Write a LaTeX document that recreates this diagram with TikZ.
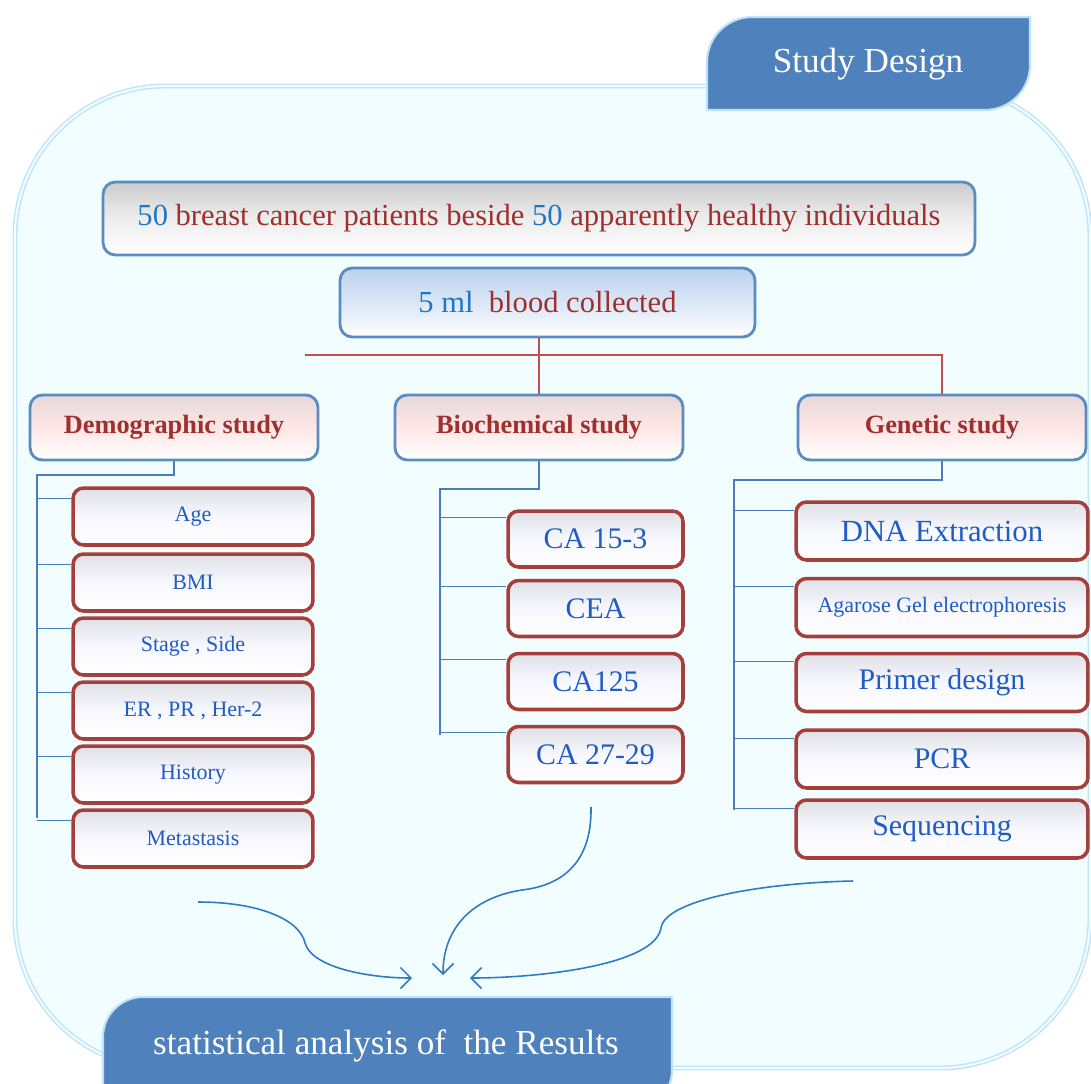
\documentclass[tikz,border=0pt]{standalone}
\usepackage{fontspec}
\setmainfont{Liberation Serif}
\usepackage{tikz}
\usetikzlibrary{arrows.meta,calc}

\definecolor{tabblue}{HTML}{4F81BD}
\definecolor{paneline}{HTML}{BDE3F9}
\definecolor{panefill}{HTML}{F2FDFF}
\definecolor{numblue}{HTML}{1F77C4}
\definecolor{txtred}{HTML}{9E302D}
\definecolor{itemblue}{HTML}{1F5CC4}
\definecolor{boxred}{HTML}{A43F3C}
\definecolor{edgeblue}{HTML}{5A8CC0}
\definecolor{linered}{HTML}{C0504D}
\definecolor{linkblue}{HTML}{4A7EBB}
\definecolor{arrowblue}{HTML}{2E7BC4}
\definecolor{bloodfill}{HTML}{BCD2EE}

\begin{document}
\begin{tikzpicture}[
  x=0.02cm, y=-0.02cm,
  pane/.style={draw=paneline,double=panefill,double distance=1.2pt,line width=0.8pt,fill=panefill,rounded corners=3cm},
  tab/.style={draw=paneline,line width=1.2pt,fill=tabblue},
  tabtext/.style={text=white,font=\fontsize{20}{24}\selectfont},
  topbox/.style={rectangle,draw=edgeblue,line width=1.6pt,rounded corners=7pt,top color=gray!40,bottom color=white,middle color=gray!14,minimum height=1.46cm,minimum width=#1,font=\fontsize{17.4}{20}\selectfont,text=txtred},
  headbox/.style={rectangle,draw=edgeblue,line width=1.6pt,rounded corners=7pt,top color=red!20!gray!25,bottom color=white,middle color=red!10,minimum width=5.76cm,minimum height=1.3cm,font=\fontsize{15}{18}\selectfont\bfseries,text=txtred},
  item/.style={rectangle,draw=boxred,line width=2pt,rounded corners=6pt,top color=blue!12!gray!22,bottom color=white,middle color=blue!3,text=itemblue,minimum width=#1},
  tree/.style={draw=linkblue,line width=0.8pt},
  redline/.style={draw=linered,line width=0.8pt},
  flow/.style={draw=arrowblue,line width=0.9pt,-{Straight Barb[length=6pt,width=12pt]}},
]
\useasboundingbox (0,0) rectangle (1091,1084);

% Background pane
\draw[pane] (15,86) rectangle (1090,1068);

% Title tab
\draw[tab] (707,110) [rounded corners=0.9cm]-- (707,17) [sharp corners]-- (1030,17) [rounded corners=0.9cm]-- (1030,110) [sharp corners]-- cycle;
\node[tabtext] (title) at (868,64) {Study Design};

% Samples
\node[topbox=17.44cm] (samples) at (539,218.5) {\textcolor{numblue}{50} breast cancer patients beside \textcolor{numblue}{50} apparently healthy individuals};
\node[topbox=8.3cm,top color=bloodfill,middle color=bloodfill!55,minimum height=1.38cm] (blood) at (547.5,302.5) {\textcolor{numblue}{5 ml}\ \ blood collected};

% Study headers
\node[headbox] (demo) at (174,427.5) {Demographic study};
\node[headbox] (bio) at (539,427.5) {Biochemical study};
\node[headbox] (gen) at (942,427.5) {Genetic study};

% Red links
\coordinate (redend) at (305,355);
\draw[redline] (bio.north) -- (bio.north |- blood.south);
\draw[redline] (gen.north) |- (redend);

% Demographic items
\node[item=4.8cm,minimum height=1.14cm,font=\fontsize{12.5}{15}\selectfont] (d1) at (193,516.5) {Age};
\node[item=4.8cm,minimum height=1.14cm,font=\fontsize{12.5}{15}\selectfont] (d2) at (193,582.5) {BMI};
\node[item=4.8cm,minimum height=1.14cm,font=\fontsize{12.5}{15}\selectfont] (d3) at (193,646.5) {Stage , Side};
\node[item=4.8cm,minimum height=1.14cm,font=\fontsize{12.5}{15}\selectfont] (d4) at (193,710.5) {ER , PR , Her-2};
\node[item=4.8cm,minimum height=1.14cm,font=\fontsize{12.5}{15}\selectfont] (d5) at (193,774.5) {History};
\node[item=4.8cm,minimum height=1.14cm,font=\fontsize{12.5}{15}\selectfont] (d6) at (193,838.5) {Metastasis};

\coordinate (dtrunk) at (37,475);
\draw[tree] (demo.south) |- (dtrunk) -- ($(dtrunk |- d6.north)+(0,10)$);
\foreach \n in {d1,d2,d3,d4,d5,d6}
  \draw[tree] ($(dtrunk |- \n.north)+(0,12)$) -- ($(\n.north west)+(0,12)$);

% Biochemical items
\node[item=3.5cm,minimum height=1.12cm,font=\fontsize{17}{20}\selectfont] (b1) at (595.5,539) {CA 15-3};
\node[item=3.5cm,minimum height=1.12cm,font=\fontsize{17}{20}\selectfont] (b2) at (595.5,608.5) {CEA};
\node[item=3.5cm,minimum height=1.12cm,font=\fontsize{17}{20}\selectfont] (b3) at (595.5,681.5) {CA125};
\node[item=3.5cm,minimum height=1.12cm,font=\fontsize{17}{20}\selectfont] (b4) at (595.5,754.5) {CA 27-29};

\coordinate (btrunk) at (440,489);
\draw[tree] (bio.south) |- (btrunk) -- ($(btrunk |- b4.north)+(0,10)$);
\foreach \n in {b1,b2,b3,b4}
  \draw[tree] ($(btrunk |- \n.north)+(0,8)$) -- ($(\n.north west)+(0,8)$);

% Genetic items
\node[item=5.84cm,minimum height=1.16cm,font=\fontsize{17.5}{21}\selectfont] (g1) at (942,531) {DNA Extraction};
\node[item=5.84cm,minimum height=1.16cm,font=\fontsize{12.5}{15}\selectfont] (g2) at (942,607.5) {Agarose Gel electrophoresis};
\node[item=5.84cm,minimum height=1.16cm,font=\fontsize{17}{20}\selectfont] (g3) at (942,682.5) {Primer design};
\node[item=5.84cm,minimum height=1.16cm,font=\fontsize{17}{20}\selectfont] (g4) at (942,759) {PCR};
\node[item=5.84cm,minimum height=1.16cm,font=\fontsize{17}{20}\selectfont] (g5) at (942,829) {Sequencing};

\coordinate (gtrunk) at (734,480);
\draw[tree] (gen.south) |- (gtrunk) -- ($(gtrunk |- g5.north)+(0,12)$);
\foreach \n in {g1,g2,g3,g4,g5}
  \draw[tree] ($(gtrunk |- \n.north)+(0,10)$) -- ($(\n.north west)+(0,10)$);

% Result tab
\draw[tab] (103,1110) [rounded corners=0.8cm]-- (103,997) [sharp corners]-- (672,997) [rounded corners=0.8cm]-- (672,1110) [sharp corners]-- cycle;
\node[tabtext] (result) at (386,1046) {statistical analysis of\ \ the Results};

% Flow arrows
\coordinate (fromdemo) at (198,902);
\coordinate (frombio) at (591,807);
\coordinate (fromgen) at (853,881);
\coordinate (intoleft) at (412,978);
\coordinate (intomid) at (443,975);
\coordinate (intoright) at (470,978);
\draw[flow] (fromdemo) .. controls (260,902) and (300,920) .. (305,943) .. controls (312,968) and (370,978) .. (intoleft);
\draw[flow] (frombio) .. controls (592,860) and (565,885) .. (522,890) .. controls (470,898) and (443,930) .. (intomid);
\draw[flow] (fromgen) .. controls (760,883) and (665,900) .. (661,928) .. controls (655,965) and (540,978) .. (intoright);
\end{tikzpicture}
\end{document}
